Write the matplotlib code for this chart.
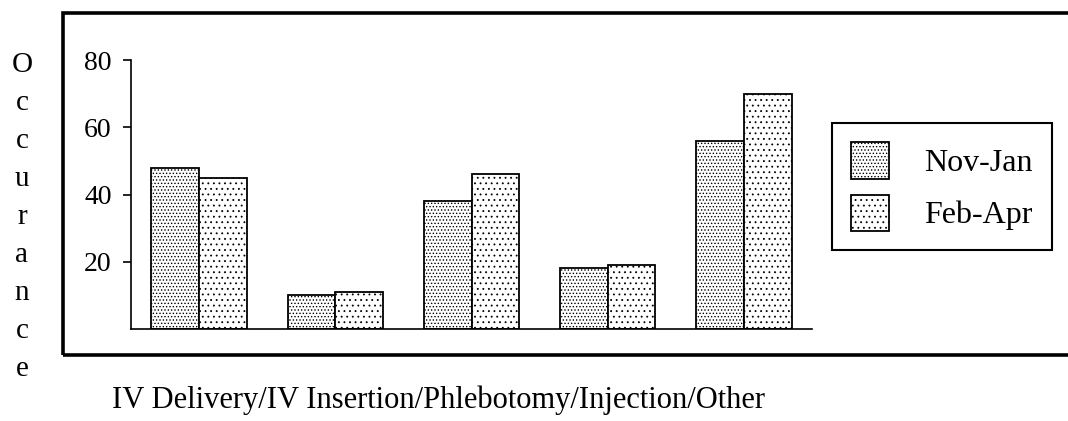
import numpy as np
import matplotlib
matplotlib.use('Agg')
import matplotlib.pyplot as plt
from matplotlib.patches import Rectangle

# values
categories = ['IV Delivery', 'IV Insertion', 'Phlebotomy', 'Injection', 'Other']
nov_jan = [48, 10, 38, 18, 56]
feb_apr = [45, 11, 46, 19, 70]
series_names = ['Nov-Jan', 'Feb-Apr']
y_ticks = [20, 40, 60, 80]

plt.rcParams['font.family'] = 'Liberation Serif'
plt.rcParams['hatch.color'] = '#6a6a6a'
plt.rcParams['hatch.linewidth'] = 0.6

W, H = 1068, 421
fig = plt.figure(figsize=(W / 100, H / 100), dpi=100)

# outer frame around the plotting area
fig.patches.append(Rectangle((63 / W, 1 - 355 / H), (1080 - 63) / W, (355 - 13) / H,
                             transform=fig.transFigure, fill=False,
                             edgecolor='black', linewidth=2.6))

ax = fig.add_axes([131 / W, 1 - 329 / H, (812 - 131) / W, (329 - 60) / H])

x = np.arange(len(categories))
width = 0.35
b1 = ax.bar(x - width / 2, nov_jan, width, facecolor='white', edgecolor='black',
            linewidth=1.3, hatch='.....', label=series_names[0])
b2 = ax.bar(x + width / 2, feb_apr, width, facecolor='white', edgecolor='black',
            linewidth=1.3, hatch='...', label=series_names[1])

ax.set_xlim(-0.5, 4.5)
ax.set_ylim(0, 80)
ax.set_yticks(y_ticks)
ax.set_xticks([])
ax.spines['top'].set_visible(False)
ax.spines['right'].set_visible(False)
ax.spines['left'].set_linewidth(1.2)
ax.spines['bottom'].set_linewidth(1.2)
ax.tick_params(axis='y', length=6, width=1.2, labelsize=20, pad=8)

leg = ax.legend(handles=[b1, b2], loc='upper left',
                bbox_to_anchor=(832 / W, 1 - 123 / H), bbox_transform=fig.transFigure,
                fontsize=23, frameon=True, fancybox=False, framealpha=1,
                edgecolor='black', handlelength=1.19, handleheight=1.38,
                handletextpad=1.1, labelspacing=0.5, borderpad=0.6,
                borderaxespad=0)
leg.get_frame().set_linewidth(1.5)

# vertical y label, one letter per line
fig.text(22 / W, 1 - 52 / H, '\n'.join('Occurance'), ha='center', va='top',
         fontsize=21, linespacing=1.6)

fig.text(112 / W, 1 - 408 / H, '/'.join(categories), ha='left', va='baseline',
         fontsize=22)

fig.savefig('out.png', dpi=100)
